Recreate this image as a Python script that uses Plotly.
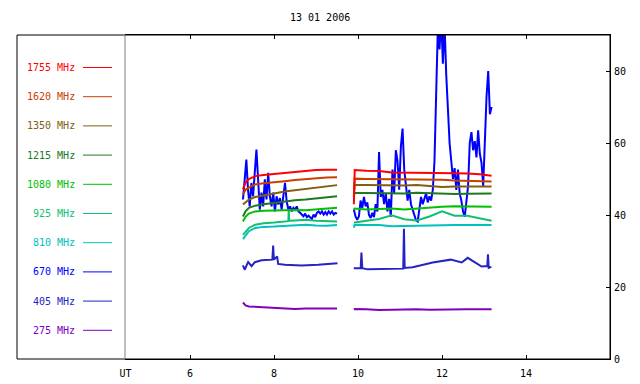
import plotly.graph_objects as go

OFF = 0          # page body margin is removed below
W, H = 640, 384
TITLE = "13 01 2006"
FREQS = ["1755 MHz", "1620 MHz", "1350 MHz", "1215 MHz", "1080 MHz",
         "925 MHz", "810 MHz", "670 MHz", "405 MHz", "275 MHz"]
COLORS = ["#ff0000", "#c84000", "#806010", "#207820", "#00c000",
          "#10c070", "#00c0c0", "#0000ff", "#2424c4", "#8000c0"]
X_START = 4.46
X_TICKS = [X_START, 6, 8, 10, 12, 14]
X_TICKTEXT = ["UT", "6", "8", "10", "12", "14"]
Y_TICKS = [0, 20, 40, 60, 80]

# sample times (UT hours) for the smoother channels
T1 = [7.26, 7.32, 7.40, 7.55, 7.75, 8.00, 8.25, 8.50, 8.75, 9.00, 9.25, 9.50]
T2 = [9.90, 9.92, 10.20, 10.50, 10.80, 11.10, 11.40, 11.70, 12.00, 12.30, 12.60, 12.90, 13.18]

S1755_A = [47.1, 49.0, 50.0, 50.8, 51.1, 51.4, 51.7, 52.0, 52.3, 52.5, 52.6, 52.6]
S1755_B = [43.0, 52.5, 52.3, 52.2, 51.8, 51.8, 51.7, 51.7, 51.6, 51.6, 51.5, 51.3, 50.9]
S1620_A = [45.7, 47.0, 47.6, 48.5, 48.8, 49.0, 49.4, 49.7, 50.0, 50.3, 50.4, 50.5]
S1620_B = [45.0, 50.1, 50.0, 50.0, 49.9, 49.8, 49.9, 50.0, 49.8, 49.6, 49.5, 49.4, 49.3]
S1350_A = [42.9, 43.5, 44.3, 45.0, 45.5, 46.0, 46.5, 46.9, 47.3, 47.5, 47.9, 48.3]
S1350_B = [46.0, 48.3, 48.3, 48.2, 48.1, 48.2, 48.3, 48.0, 47.8, 47.9, 48.0, 47.9, 47.9]
S1215_A = [39.6, 41.0, 42.0, 42.6, 43.0, 43.4, 43.8, 44.1, 44.3, 44.6, 44.9, 45.2]
S1215_B = [45.5, 46.1, 46.1, 46.0, 45.9, 46.0, 46.2, 46.0, 45.8, 45.8, 45.9, 45.9, 46.0]
S1080_A = [38.2, 39.5, 40.4, 41.0, 41.2, 41.3, 41.5, 41.4, 41.3, 41.6, 41.8, 42.0]
S1080_B = [41.5, 41.8, 41.5, 41.6, 41.8, 41.5, 41.8, 42.2, 42.3, 42.4, 42.4, 42.4, 42.3]
T925_A = [7.26, 7.32, 7.40, 7.55, 7.75, 8.00, 8.25, 8.34, 8.35, 8.36, 8.50, 8.75, 9.00, 9.25, 9.50]
S925_A = [34.5, 35.3, 36.4, 37.3, 37.7, 37.9, 38.2, 38.3, 41.5, 38.4, 38.5, 38.7, 38.4, 38.3, 38.2]
S925_B = [37.9, 37.9, 38.4, 38.9, 39.9, 38.8, 38.5, 39.6, 41.0, 39.8, 39.8, 39.0, 38.4]
S810_A = [33.3, 34.3, 35.5, 36.4, 36.7, 36.8, 37.0, 37.1, 37.3, 37.1, 37.0, 37.2]
S810_B = [36.5, 37.3, 37.2, 37.2, 36.9, 37.0, 37.1, 37.2, 37.3, 37.2, 37.2, 37.1, 37.2]
S275_A = [15.7, 14.9, 14.6, 14.5, 14.4, 14.2, 14.0, 13.9, 14.0, 14.0, 14.0, 14.0]
S275_B = [13.8, 13.9, 13.8, 13.6, 13.7, 13.8, 13.8, 13.7, 13.8, 13.9, 13.8, 13.8, 13.8]

T405_A = [7.257, 7.304, 7.345, 7.383, 7.464, 7.542, 7.702, 7.859, 7.960, 7.978, 7.996,
          8.073, 8.097, 8.256, 8.654, 9.049, 9.510]
S405_A = [26.0, 24.8, 26.0, 26.9, 25.8, 26.9, 27.4, 27.4, 27.6, 31.5, 27.6,
          28.5, 26.4, 26.2, 26.0, 26.2, 26.6]
T405_B = [9.898, 10.062, 10.081, 10.100, 10.231, 10.398, 10.755, 11.076, 11.093, 11.110,
          11.302, 11.469, 11.778, 12.207, 12.468, 12.611, 12.777, 12.944, 13.078, 13.094,
          13.111, 13.175]
S405_B = [25.2, 25.2, 29.6, 25.2, 24.9, 24.9, 25.0, 25.1, 36.2, 25.3,
          25.5, 26.0, 26.8, 27.6, 26.8, 28.1, 26.9, 25.7, 25.8, 29.1,
          25.3, 25.6]

# 670 MHz, sampled every 0.04 h
T670_A0, T670_B0, DT670 = 7.26, 9.90, 0.04
S670_A = [44.3, 51.3, 55.4, 47.0, 42.4, 48.9, 45.2, 51.7, 58.2, 49.9,
          41.5, 46.2, 42.4, 49.9, 44.3, 51.7, 45.2, 42.4, 46.2, 41.0,
          45.2, 42.9, 44.7, 41.5, 46.2, 48.9, 43.8, 41.5, 42.4, 41.0,
          42.0, 41.5, 42.4, 41.0, 40.6, 40.1, 39.6, 40.4, 39.4, 39.8,
          39.2, 38.9, 40.1, 39.4, 40.6, 41.0, 40.4, 41.0, 40.1, 40.8,
          40.1, 41.0, 40.4, 41.0, 40.1, 40.6, 40.4]
S670_B = [41.5, 39.6, 38.7, 39.6, 44.0, 42.0, 45.0, 42.4, 43.5, 40.0,
          39.2, 40.6, 39.4, 43.0, 41.0, 57.5, 45.0, 47.0, 43.0, 46.0,
          41.0, 44.5, 39.5, 52.6, 46.0, 58.0, 55.0, 47.0, 59.0, 64.0,
          52.6, 48.0, 44.0, 47.0, 43.0, 41.5, 40.0, 38.5, 38.2, 41.0,
          45.0, 43.0, 44.3, 46.0, 43.5, 45.2, 44.0, 47.0, 55.0, 75.0,
          92.0, 86.0, 95.0, 82.0, 93.0, 79.0, 68.0, 60.0, 55.0, 50.0,
          53.0, 47.0, 52.6, 46.0, 44.0, 41.0, 39.5, 43.0, 48.0, 60.0,
          63.0, 58.0, 60.5, 56.0, 63.5, 57.0, 54.5, 48.0, 62.0, 73.0,
          80.0, 68.0, 70.0]
T670_A = [round(T670_A0 + DT670 * i, 3) for i in range(len(S670_A))]
T670_B = [round(T670_B0 + DT670 * i, 3) for i in range(len(S670_B))]

series = {
    "1755 MHz": (T1, S1755_A, T2, S1755_B),
    "1620 MHz": (T1, S1620_A, T2, S1620_B),
    "1350 MHz": (T1, S1350_A, T2, S1350_B),
    "1215 MHz": (T1, S1215_A, T2, S1215_B),
    "1080 MHz": (T1, S1080_A, T2, S1080_B),
    "925 MHz": (T925_A, S925_A, T2, S925_B),
    "810 MHz": (T1, S810_A, T2, S810_B),
    "670 MHz": (T670_A, S670_A, T670_B, S670_B),
    "405 MHz": (T405_A, S405_A, T405_B, S405_B),
    "275 MHz": (T1, S275_A, T2, S275_B),
}

FONT = "DejaVu Sans Mono"
fig = go.Figure()

# draw low frequencies first so higher ones lie on top
for name, color in reversed(list(zip(FREQS, COLORS))):
    ta, va, tb, vb = series[name]
    fig.add_trace(go.Scatter(
        x=list(ta) + [None] + list(tb),
        y=list(va) + [None] + list(vb),
        mode="lines", line=dict(color=color, width=2),
        name=name, showlegend=False, connectgaps=False,
    ))


def px(x):
    """screen x (px) -> paper fraction"""
    return (x - OFF) / W


def py(y):
    """screen y (px) -> paper fraction"""
    return 1 - (y - OFF) / H


X0, X1, Y0, Y1 = 125, 610, 35, 359
fig.update_layout(
    width=W, height=H, margin=dict(l=0, r=0, t=0, b=0, pad=0, autoexpand=False),
    paper_bgcolor="white", plot_bgcolor="white",
    font=dict(family=FONT, size=10, color="black"),
    xaxis=dict(domain=[px(X0), px(X1)], range=[4.45, 16.0],
               tickvals=X_TICKS, ticktext=X_TICKTEXT, automargin=False,
               ticks="inside", ticklen=4, tickcolor="black", showgrid=False,
               zeroline=False, showline=True, linecolor="black", linewidth=1,
               mirror="ticks", ticklabelstandoff=5,
               tickfont=dict(family=FONT, size=10, color="black")),
    yaxis=dict(domain=[py(Y1), py(Y0)], range=[0, 90], tickvals=Y_TICKS, side="right",
               automargin=False,
               ticks="inside", ticklen=4, tickcolor="black", showgrid=False,
               zeroline=False, showline=True, linecolor="black", linewidth=1,
               ticklabelstandoff=1,
               tickfont=dict(family=FONT, size=10, color="black")),
)

shapes = [
    dict(type="rect", xref="paper", yref="paper", x0=px(17), x1=px(X1), y0=py(Y1), y1=py(Y0),
         line=dict(color="black", width=1)),
    dict(type="line", xref="paper", yref="paper", x0=px(X0), x1=px(X0), y0=py(Y1), y1=py(Y0),
         line=dict(color="#808080", width=1)),
]
annotations = [
    dict(text=TITLE, x=px(320), y=py(17), xref="paper", yref="paper", showarrow=False,
         font=dict(family=FONT, size=10, color="black"), xanchor="center", yanchor="middle"),
]
for i, (name, color) in enumerate(zip(FREQS, COLORS)):
    yc = 67.5 + 29.2 * i
    annotations.append(dict(text=name, x=px(77), y=py(yc), xref="paper", yref="paper",
                            showarrow=False, xanchor="right", yanchor="middle",
                            font=dict(family=FONT, size=10, color=color)))
    shapes.append(dict(type="line", xref="paper", yref="paper", x0=px(83), x1=px(112),
                       y0=py(yc), y1=py(yc), line=dict(color=color, width=1)))
fig.update_layout(shapes=shapes, annotations=annotations)

fig.write_html(
    "out.html",
    config={"displayModeBar": False},
    post_script="document.body.style.margin='0';document.body.style.overflow='hidden';",
)
